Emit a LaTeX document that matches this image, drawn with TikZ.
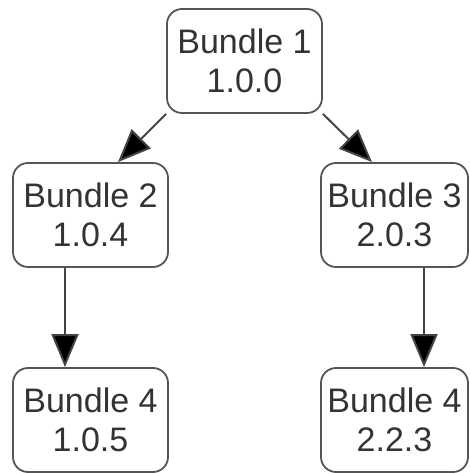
\documentclass[tikz,border=0pt]{standalone}
\usepackage{fontspec}
\setmainfont{Liberation Sans}
\usetikzlibrary{arrows.meta,calc}
\definecolor{txt}{HTML}{333333}
\definecolor{edge}{HTML}{555555}
\definecolor{conn}{HTML}{444444}
\begin{document}
\begin{tikzpicture}[x=1pt,y=1pt,
  bundle/.style={draw=edge, line width=1.8pt, rounded corners=15pt,
    minimum height=104pt, inner sep=0pt, align=center, text=txt,
    font=\fontsize{34}{39}\selectfont},
  wide/.style={minimum width=155pt},
  narrow/.style={minimum width=147pt},
  dep/.style={draw=conn, line width=2pt,
    -{Triangle[length=33pt,width=27pt,fill=black]}}]
\useasboundingbox (0,0) rectangle (469,473);
\node[bundle,wide]   (b1)  at (244.5,412) {Bundle 1\\1.0.0};
\node[bundle,wide]   (b2)  at (90.5,258)  {Bundle 2\\1.0.4};
\node[bundle,narrow] (b3)  at (394.5,258) {Bundle 3\\2.0.3};
\node[bundle,wide]   (b4l) at (90.5,53)   {Bundle 4\\1.0.5};
\node[bundle,narrow] (b4r) at (394.5,53)  {Bundle 4\\2.2.3};
\draw[dep] (b1.south west) -- ($(b2.north)+(27.5,0)$);
\draw[dep] (b1.south east) -- ($(b3.north)+(-22.5,0)$);
\draw[dep] ($(b2.south)+(-25.5,0)$) -- ($(b4l.north)+(-25.5,0)$);
\draw[dep] ($(b3.south)+(29.5,0)$) -- ($(b4r.north)+(29.5,0)$);
\end{tikzpicture}
\end{document}
